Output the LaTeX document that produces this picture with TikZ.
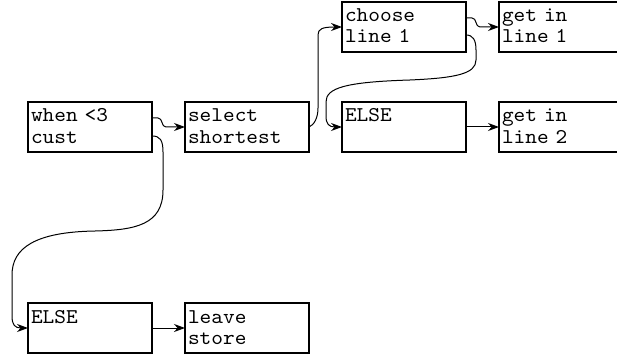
\documentclass[tikz,border=0pt]{standalone}
\usepackage{fontspec}
\setmonofont{lmmono10-regular.otf}[FakeStretch=1.06]
\usepackage{tikz}
\usetikzlibrary{arrows.meta}

\begin{document}
\begin{tikzpicture}[x=1pt, y=-1pt,
        box/.style={draw, line width=1.2pt, anchor=north west, outer sep=0pt,
            inner xsep=3pt, inner ysep=0pt, text width=118pt, align=left,
            text height=20pt, text depth=30pt,
            font=\ttfamily\fontsize{21}{21}\selectfont},
        link/.style={line width=1pt, -{Stealth[length=11pt,width=8pt]}}]
        \useasboundingbox (0,0) rectangle (617,358);
        \clip (0,0) rectangle (617,358);

        % cajas
        \node[box] (when)   at (28,102)  {when <3\\cust};
        \node[box] (select) at (185,102) {select\\shortest};
        \node[box] (choose) at (342,2)   {choose\\line 1};
        \node[box] (getone) at (499,2)   {get in\\line 1};
        \node[box] (elseA)  at (342,102) {ELSE};
        \node[box] (gettwo) at (499,102) {get in\\line 2};
        \node[box] (elseB)  at (28,303)  {ELSE};
        \node[box] (leave)  at (185,303) {leave\\store};

        % flechas
        \draw[link] ([yshift=9pt]when.east) -- ++(6,0)
            .. controls +(5,0) and +(-5,0) .. ++(8,9) -- (select.west);
        \draw[link] ([yshift=-9pt]when.east) .. controls +(8,0) and (163,140) .. (163,152)
            -- (163,190) .. controls (163,225) and (135,230) .. (95,231)
            .. controls (35,232) and (12,248) .. (12,275) -- (12,316)
            .. controls (12,325) and (15,328) .. (elseB.west);
        \draw[link] (select.east) .. controls +(5,-2) and (318,118) .. (318,108)
            -- (318,35) .. controls (318,29) and (322,27) .. (choose.west);
        \draw[link] ([yshift=9pt]choose.east) -- ++(6,0)
            .. controls +(5,0) and +(-5,0) .. ++(8,9) -- (getone.west);
        \draw[link] ([yshift=-8pt]choose.east) .. controls +(7,0) and (476,40) .. (476,50)
            -- (476,60) .. controls (476,74) and (455,78) .. (410,80)
            .. controls (345,82) and (326,88) .. (326,102) -- (326,116)
            .. controls (326,124) and (329,127) .. (elseA.west);
        \draw[link] (elseA.east) -- (gettwo.west);
        \draw[link] (elseB.east) -- (leave.west);
\end{tikzpicture}
\end{document}
